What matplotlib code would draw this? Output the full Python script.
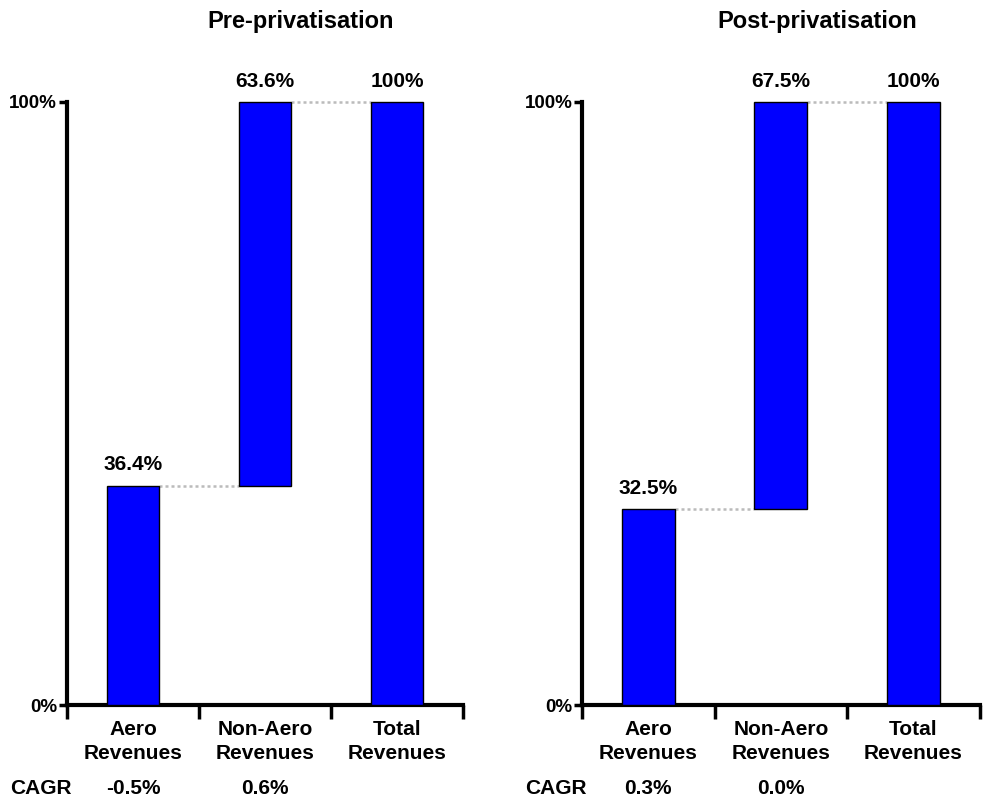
import matplotlib
matplotlib.use("Agg")
import matplotlib.pyplot as plt

plt.rcParams['font.family'] = ['Liberation Sans', 'DejaVu Sans']
plt.rcParams['font.weight'] = 'bold'

# waterfall data (share of total revenues, %)
categories = ["Aero\nRevenues", "Non-Aero\nRevenues", "Total\nRevenues"]
panel_titles = ["Pre-privatisation", "Post-privatisation"]
aero_share = [36.4, 32.5]
nonaero_share = [63.6, 67.5]
total_share = [100, 100]
cagr = [["-0.5%", "0.6%"], ["0.3%", "0.0%"]]

fig = plt.figure(figsize=(10.07, 8.0), dpi=100)
axes_pos = [[0.0665, 0.11875, 0.3933, 0.75375],
            [0.578, 0.11875, 0.395, 0.75375]]
title_x = [0.299, 0.812]

bar_w = 0.4
for k in range(2):
    ax = fig.add_axes(axes_pos[k])
    bottoms = [0, aero_share[k], 0]
    heights = [aero_share[k], nonaero_share[k], total_share[k]]
    tops = [b + h for b, h in zip(bottoms, heights)]
    ax.bar(range(3), heights, bottom=bottoms, width=bar_w, color='#0000FF',
           edgecolor='black', linewidth=1, clip_on=False, zorder=3)

    # dotted connectors between steps
    for i in range(2):
        ax.plot([i + bar_w / 2, i + 1 - bar_w / 2], [tops[i], tops[i]],
                color='#BBBBBB', linestyle=(0, (1.2, 1.2)), linewidth=1.8,
                clip_on=False, zorder=2)

    labels = [f"{aero_share[k]}%", f"{nonaero_share[k]}%", f"{total_share[k]}%"]
    for i in range(3):
        ax.annotate(labels[i], (i, tops[i]), xytext=(0, 8), textcoords='offset points',
                    ha='center', va='bottom', fontsize=15, fontweight='bold',
                    annotation_clip=False)

    ax.set_xlim(-0.5, 2.5)
    ax.set_ylim(0, 100)
    ax.set_yticks([0, 100])
    ax.set_yticklabels(["0%", "100%"], fontsize=13.5, fontweight='bold')
    ax.set_xticks([-0.5, 0.5, 1.5, 2.5])
    ax.set_xticklabels([])
    ax.tick_params(axis='y', length=6, width=2.5, pad=1)
    ax.tick_params(axis='x', length=10, width=2.5)
    for s in ['top', 'right']:
        ax.spines[s].set_visible(False)
    for s in ['left', 'bottom']:
        ax.spines[s].set_linewidth(3)
        ax.spines[s].set_capstyle('projecting')

    for i, c in enumerate(categories):
        ax.text(i, -2.5, c, ha='center', va='top', fontsize=15,
                fontweight='bold', linespacing=1.3)
    ax.text(-0.5 - 0.2, -13.9, "CAGR", ha='center', va='center',
            fontsize=15, fontweight='bold')
    for i, v in enumerate(cagr[k]):
        ax.text(i, -13.9, v, ha='center', va='center', fontsize=15,
                fontweight='bold')

    fig.text(title_x[k], 0.973, panel_titles[k], ha='center', va='center',
             fontsize=17, fontweight='bold')

fig.savefig("out.png", dpi=100)
